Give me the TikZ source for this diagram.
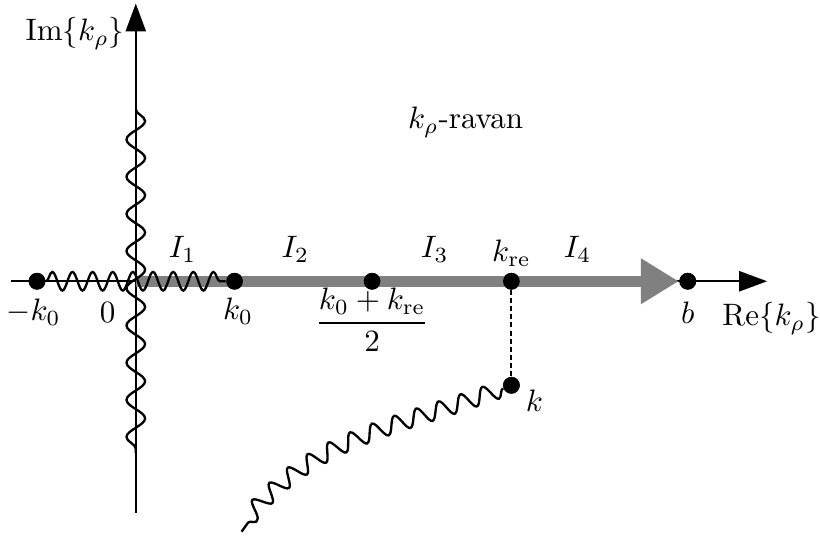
\documentclass[tikz,border=0pt]{standalone}
\usepackage{amsmath}
\usetikzlibrary{arrows.meta,decorations.pathmorphing}

\tikzset{
  dot/.style={circle,fill,inner sep=0pt,minimum size=0.19cm},
  cut/.style 2 args={decorate,decoration={snake,segment length=#1,amplitude=#2},line width=0.75pt},
  axis/.style={line width=0.6pt,-{Triangle[length=9pt,width=6.5pt]}}
}

\begin{document}
\begin{tikzpicture}
  \useasboundingbox (-1.54,-2.88) rectangle (7.76,3.19);

  % axes
  \coordinate (O) at (0,0);
  \coordinate (xs) at (-1.41,0);
  \coordinate (xe) at (7.16,0);
  \coordinate (ys) at (0,-2.63);
  \coordinate (ye) at (0,3.15);
  \draw[axis] (xs) -- (xe);
  \draw[axis] (ys) -- (ye);
  \node (imlab) at (-0.69,2.81) {$\mathrm{Im}\{k_\rho\}$};
  \node (relab) at (7.21,-0.42) {$\mathrm{Re}\{k_\rho\}$};
  \node (plane) at (3.74,1.80) {$k_\rho$-ravan};

  % points
  \node[dot] (mk0) at (-1.12,0) {};
  \node[dot] (k0) at (1.12,0) {};
  \node[dot] (mid) at (2.68,0) {};
  \node[dot] (kre) at (4.26,0) {};
  \node[dot] (b) at (6.26,0) {};
  \node[dot] (k) at (4.26,-1.18) {};

  % integration path
  \draw[line width=3.5pt,gray,-{Triangle[length=0.43cm,width=0.49cm]}] (O) -- (b);

  % branch cuts
  \coordinate (cuttop) at (0,1.95);
  \coordinate (cutbot) at (0,-1.95);
  \coordinate (kend) at (1.2,-2.84);
  \draw[cut={6.5pt}{3pt}] (mk0) -- (k0);
  \draw[cut={12pt}{3pt}] (cuttop) -- (cutbot);
  \draw[cut={7.5pt}{2.7pt}] (k) to[out=200,in=55] (kend);
  \draw[dash pattern=on 1.6pt off 1pt,line width=0.6pt] (kre) -- (k);

  % redraw points on top
  \foreach \p in {mk0,k0,mid,kre,b,k}
    \fill (\p) circle (0.095);

  % labels
  \node (mk0lab) at (-1.16,-0.35) {$-k_0$};
  \node (zlab) at (-0.32,-0.35) {$0$};
  \node (k0lab) at (1.16,-0.34) {$k_0$};
  \node (midlab) at (2.68,-0.44) {$\dfrac{k_0+k_{\mathrm{re}}}{2}$};
  \node (krelab) at (4.26,0.32) {$k_{\mathrm{re}}$};
  \node (blab) at (6.26,-0.36) {$b$};
  \node (klab) at (4.52,-1.35) {$k$};
  \node (i1) at (0.53,0.36) {$I_1$};
  \node (i2) at (1.81,0.36) {$I_2$};
  \node (i3) at (3.39,0.36) {$I_3$};
  \node (i4) at (5.01,0.36) {$I_4$};
\end{tikzpicture}
\end{document}
